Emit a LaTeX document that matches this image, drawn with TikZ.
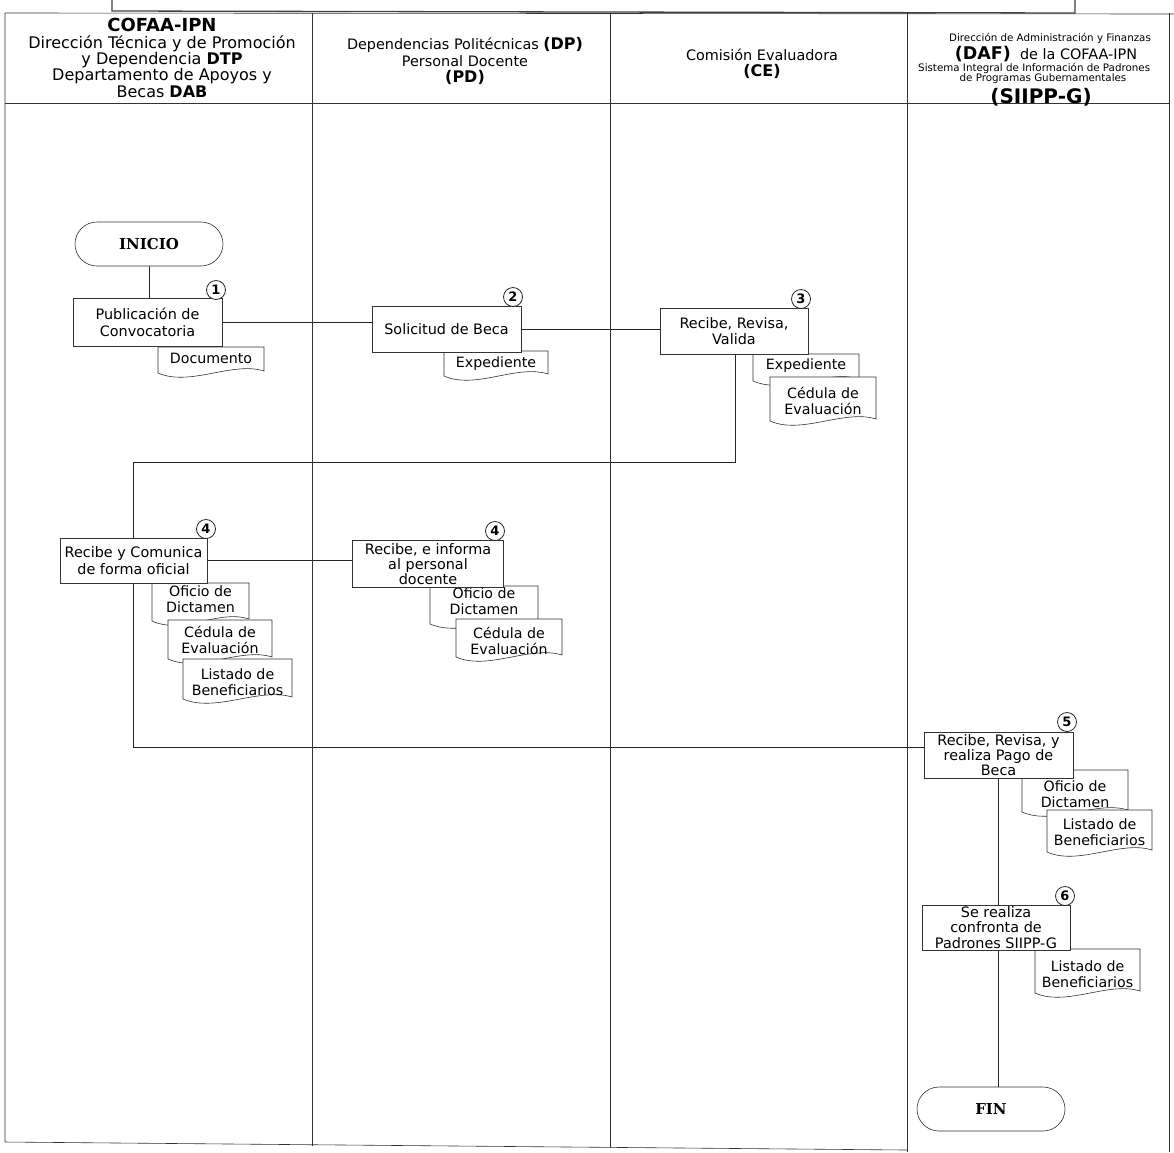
\documentclass[tikz,border=0pt]{standalone}
\usepackage{fontspec}
\setmainfont{DejaVu Sans}
\newfontfamily\slabfont{DejaVu Serif}
\usetikzlibrary{shapes.misc,backgrounds}
\newcommand\bodyfs{\fontsize{14.4}{16.5}\selectfont}
\newcommand\tightfs{\fontsize{14.4}{15.3}\selectfont}
\newcommand\docfs{\fontsize{14.2}{16}\selectfont}
\newcommand\tinyfs{\fontsize{10.3}{11}\selectfont}
% document shape: #1 name, #2 x, #3 y (top), #4 width, #5 height, #6 text centre y, #7 text
\newcommand\docnode[7]{%
  \filldraw[docline] (#2,#3) -- (#2+#4,#3) -- (#2+#4,#3+#5-8)
    .. controls (#2+0.7*#4,#3+#5-18) and (#2+0.3*#4,#3+#5+8) .. (#2,#3+#5-6) -- cycle;
  \node[doctext] (#1) at (#2+#4/2,#6) {#7};
}
\tikzset{
  lane/.style={draw=black!80, line width=0.6pt},
  conn/.style={draw=black!85, line width=0.7pt},
  docline/.style={draw=black!80, fill=white, line width=0.6pt},
  doctext/.style={align=center, inner sep=0pt, font=\docfs},
  procbox/.style={draw=black!80, fill=white, line width=0.6pt, align=center, inner sep=0pt, font=\bodyfs},
  terminal/.style={rounded rectangle, draw=black!80, fill=white, line width=0.6pt, inner sep=0pt,
    minimum width=148pt, minimum height=44pt, font=\slabfont\bfseries\fontsize{15}{17}\selectfont},
  numcirc/.style={circle, draw=black!85, fill=white, line width=0.8pt, inner sep=0pt,
    minimum size=19pt, font=\bfseries\fontsize{13}{13}\selectfont},
  headtxt/.style={align=center, inner sep=0pt, font=\bodyfs}
}
\begin{document}
\begin{tikzpicture}[x=1pt,y=-1pt]
\useasboundingbox (0,0) rectangle (1174,1152);
% title box (cut at top)
\draw[line width=1.3pt, black!75] (112,0) -- (112,11) -- (1075,13) -- (1075,0);
% swimlane frame
\draw[lane] (5,13) -- (1174,14);
\draw[lane] (5,103) -- (1169,103);
\draw[lane] (5,13) -- (5,1142) -- (907,1150);
\draw[lane] (312,13) -- (312,1146);
\draw[lane] (610,13) -- (610,1148);
\draw[lane] (907,13) -- (907,1152);
\draw[lane] (1169,13) -- (1169,1152);
% headers
\node[headtxt, font=\fontsize{16}{16.4}\selectfont] (h1) at (162,58) {{\fontsize{18}{16.4}\selectfont\bfseries COFAA-IPN}\\Dirección Técnica y de Promoción\\y Dependencia \textbf{DTP}\\Departamento de Apoyos y\\Becas \textbf{DAB}};
\node[headtxt] (h2) at (465,61) {Dependencias Politécnicas {\fontsize{16}{16.5}\selectfont\bfseries(DP)}\\Personal Docente\\{\fontsize{16}{16.5}\selectfont\bfseries(PD)}};
\node[headtxt] (h3) at (762,64) {Comisión Evaluadora\\{\fontsize{16}{16.5}\selectfont\bfseries(CE)}};
\node[headtxt, font=\tinyfs] (h4a) at (1050,38) {Dirección de Administración y Finanzas};
\node[headtxt] (h4b) at (1046,54) {{\fontsize{17.5}{18}\selectfont\bfseries (DAF)}\ \ de la COFAA-IPN};
\node[headtxt, font=\tinyfs, anchor=west] (h4c) at (918,68) {Sistema Integral de Información de Padrones};
\node[headtxt, font=\tinyfs] (h4d) at (1043,79) {de Programas Gubernamentales};
\node[headtxt, font=\bfseries\fontsize{20}{20}\selectfont] (h4e) at (1041,97) {(SIIPP-G)};
% documents (drawn before the boxes)
\docnode{dA}{158}{347}{106}{32}{358}{Documento}
\docnode{dB}{444}{351}{104}{31}{364}{Expediente}
\docnode{dC}{753}{354}{106}{33}{366}{Expediente}
\docnode{dD}{770}{377}{106}{50}{401}{Cédula de\\Evaluación}
\docnode{dE}{152}{583}{97}{44}{599}{Oficio de\\Dictamen}
\docnode{dF}{168}{620}{104}{45}{640}{Cédula de\\Evaluación}
\docnode{dG}{183}{659}{109}{46}{682}{Listado de\\Beneficiarios}
\docnode{dH}{430}{586}{108}{44}{601}{Oficio de\\Dictamen}
\docnode{dI}{456}{619}{106}{44}{641}{Cédula de\\Evaluación}
\docnode{dJ}{1022}{770}{106}{48}{794}{Oficio de\\Dictamen}
\docnode{dK}{1047}{810}{105}{48}{832}{Listado de\\Beneficiarios}
\docnode{dL}{1035}{949}{105}{50}{974}{Listado de\\Beneficiarios}
% nodes (boxes)
\node[terminal] (inicio) at (149,244) {INICIO};
\node[procbox, minimum width=149pt, minimum height=48pt] (b1) at (147.5,322.5) {Publicación de\\Convocatoria};
\node[procbox, minimum width=149pt, minimum height=46pt] (b2) at (446.5,329) {Solicitud de Beca};
\node[procbox, minimum width=148pt, minimum height=46pt] (b3) at (734,331) {Recibe, Revisa,\\Valida};
\node[procbox, minimum width=147pt, minimum height=45pt] (b4a) at (133.5,560.5) {Recibe y Comunica\\de forma oficial};
\node[procbox, minimum width=151pt, minimum height=47pt, font=\tightfs] (b4b) at (428,564) {Recibe, e informa\\al personal\\docente};
\node[procbox, minimum width=149pt, minimum height=46pt, font=\tightfs] (b5) at (998.5,755) {Recibe, Revisa, y\\realiza Pago de\\Beca};
\node[procbox, minimum width=148pt, minimum height=45pt, font=\tightfs] (b6) at (996,927.5) {Se realiza\\confronta de\\Padrones SIIPP-G};
\node[terminal] (fin) at (991,1109) {FIN};
% step numbers
\node[numcirc] (n1) at (216,290) {1};
\node[numcirc] (n2) at (513,297) {2};
\node[numcirc] (n3) at (801,299) {3};
\node[numcirc] (n4a) at (206,529) {4};
\node[numcirc] (n4b) at (495,531) {4};
\node[numcirc] (n5) at (1067,722) {5};
\node[numcirc] (n6) at (1065,896) {6};
% connector junctions
\coordinate (j1) at (735,462);
\coordinate (j2) at (133,462);
\coordinate (j3) at (133,747);
% connectors (behind the boxes)
\begin{scope}[on background layer]
\draw[conn] (inicio.south) -- (inicio.south |- b1.north);
\draw[conn] (b1.east) -- (b1.east -| b2.west);
\draw[conn] (b2.east) -- (b2.east -| b3.west);
\draw[conn] (b3.south -| j1) -- (j1) -- (j2) -- (j3) -- (j3 -| b5.west);
\draw[conn] (b4a.east) -- (b4a.east -| b4b.west);
\draw[conn] (b5.south) -- (b5.south |- fin.north);
\end{scope}
\end{tikzpicture}
\end{document}
